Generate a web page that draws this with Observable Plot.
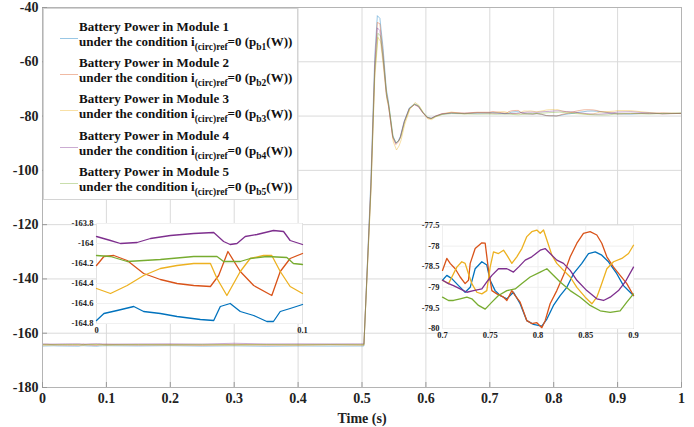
<!DOCTYPE html>
<html><head><meta charset="utf-8">
<script src="https://cdn.jsdelivr.net/npm/d3@7"></script>
<script src="https://cdn.jsdelivr.net/npm/@observablehq/plot@0.6"></script>
<style>
body{margin:0;background:#fff;}
#wrap{position:relative;width:694px;height:427px;overflow:hidden;font-family:"Liberation Serif","Times New Roman",serif;font-weight:bold;}
.abs{position:absolute;}
#legend{position:absolute;left:43px;top:8px;width:255px;height:192px;background:#fff;border:1px solid #d4d4d4;box-sizing:border-box;}
.entry{position:absolute;left:0;width:255px;font-size:13px;line-height:15px;color:#111;}
.entry .sample{position:absolute;left:16px;top:19px;width:18px;height:0;border-top:1px solid;opacity:0.4;}
.entry .txt{position:absolute;left:35px;top:0;white-space:nowrap;}
.entry sub{font-size:9.5px;vertical-align:-4px;line-height:0;}
</style></head><body><div id="wrap"></div>
<script>
// ---- series meta ----
const seriesNames = ["Module 1","Module 2","Module 3","Module 4","Module 5"];
const seriesSubs = ["b1","b2","b3","b4","b5"];
const seriesColors = ["#0072BD","#D95319","#EDB120","#7E2F8E","#77AC30"];

// ---- main axis ticks ----
const xTicks = [0,0.1,0.2,0.3,0.4,0.5,0.6,0.7,0.8,0.9,1];
const xTickLabels = ["0","0.1","0.2","0.3","0.4","0.5","0.6","0.7","0.8","0.9","1"];
const yTicks = [-180,-160,-140,-120,-100,-80,-60,-40];
const yTickLabels = ["-180","-160","-140","-120","-100","-80","-60","-40"];

// ---- left inset ticks (0 - 0.1 s) ----
const in1XTicks = [0,0.1];
const in1XTickLabels = ["0","0.1"];
const in1YTicks = [-164.8,-164.6,-164.4,-164.2,-164,-163.8];
const in1YTickLabels = ["-164.8","-164.6","-164.4","-164.2","-164","-163.8"];
// ---- right inset ticks (0.7 - 0.9 s) ----
const in2XTicks = [0.7,0.75,0.8,0.85,0.9];
const in2XTickLabels = ["0.7","0.75","0.8","0.85","0.9"];
const in2YTicks = [-80,-79.5,-79,-78.5,-78,-77.5];
const in2YTickLabels = ["-80","-79.5","-79","-78.5","-78","-77.5"];

// ---- data: segment 0 - 0.1 s (left inset) ----
const early1 = [[0,-164.77],[0.0036,-164.7],[0.01,-164.67],[0.0181,-164.63],[0.0229,-164.68],[0.031,-164.7],[0.0391,-164.73],[0.0504,-164.76],[0.0569,-164.77],[0.0601,-164.63],[0.0649,-164.6],[0.0698,-164.68],[0.0763,-164.72],[0.0827,-164.78],[0.0859,-164.78],[0.0892,-164.68],[0.094,-164.65],[0.1,-164.61]];
const early2 = [[0,-164.22],[0.0036,-164.13],[0.0084,-164.12],[0.0149,-164.17],[0.0229,-164.3],[0.031,-164.36],[0.0391,-164.4],[0.0472,-164.42],[0.0553,-164.43],[0.0593,-164.32],[0.0638,-164.08],[0.0698,-164.28],[0.0763,-164.42],[0.0851,-164.52],[0.0892,-164.28],[0.094,-164.15],[0.1,-164.1]];
const early3 = [[0,-164.45],[0.0068,-164.5],[0.0149,-164.42],[0.0229,-164.32],[0.031,-164.25],[0.0391,-164.22],[0.0472,-164.2],[0.0553,-164.2],[0.0585,-164.35],[0.0633,-164.52],[0.0698,-164.28],[0.0746,-164.15],[0.0811,-164.12],[0.0851,-164.12],[0.0892,-164.28],[0.094,-164.43],[0.1,-164.5]];
const early4 = [[0,-163.93],[0.0068,-163.97],[0.0116,-164.0],[0.0197,-163.99],[0.0262,-163.95],[0.0359,-163.92],[0.0472,-163.9],[0.0569,-163.89],[0.0617,-163.98],[0.0649,-164.01],[0.0682,-164.0],[0.0722,-163.93],[0.0779,-163.91],[0.0859,-163.87],[0.0908,-163.88],[0.094,-163.97],[0.1,-164.01]];
const early5 = [[0,-164.12],[0.0068,-164.13],[0.0149,-164.18],[0.031,-164.16],[0.0472,-164.13],[0.0585,-164.13],[0.0617,-164.18],[0.0698,-164.18],[0.0746,-164.15],[0.0827,-164.13],[0.0924,-164.14],[0.0956,-164.2],[0.1,-164.21]];

// ---- data: 0.1 - 0.5 s ----
const mid1 = [[0.15,-164.7],[0.2,-164.6],[0.25,-164.75],[0.3,-164.65],[0.35,-164.8],[0.4,-164.7],[0.45,-164.75],[0.503,-164.7]];
const mid2 = [[0.15,-164.4],[0.2,-164.2],[0.25,-164.45],[0.3,-164.1],[0.35,-164.4],[0.4,-164.3],[0.45,-164.2],[0.503,-164.3]];
const mid3 = [[0.15,-164.2],[0.2,-164.45],[0.25,-164.3],[0.3,-164.5],[0.35,-164.2],[0.4,-164.45],[0.45,-164.3],[0.503,-164.4]];
const mid4 = [[0.15,-163.95],[0.2,-163.9],[0.25,-164.0],[0.3,-163.7],[0.35,-163.95],[0.4,-163.9],[0.45,-163.95],[0.503,-163.9]];
const mid5 = [[0.15,-164.15],[0.2,-164.2],[0.25,-164.12],[0.3,-164.2],[0.35,-164.15],[0.4,-164.18],[0.45,-164.12],[0.503,-164.15]];

// ---- data: transient 0.5 - 0.7 s ----
const trans1 = [[0.514,-103],[0.52,-58],[0.524,-43],[0.528,-44],[0.533,-55],[0.538,-70],[0.541,-74],[0.548,-87],[0.553,-90],[0.557,-89],[0.56,-87.5],[0.566,-82],[0.574,-77],[0.582,-75.5],[0.588,-76.2],[0.595,-78.6],[0.602,-80.4],[0.608,-80.9],[0.615,-80.1],[0.625,-79.3],[0.64,-78.9],[0.66,-79.1],[0.68,-78.9]];
const trans2 = [[0.514,-105],[0.52,-61],[0.524,-45.5],[0.528,-46],[0.533,-57],[0.538,-71],[0.541,-75],[0.548,-88],[0.553,-90.5],[0.557,-89.5],[0.56,-88],[0.566,-82.5],[0.574,-77.3],[0.582,-75.8],[0.588,-76.5],[0.595,-78.8],[0.602,-80.6],[0.608,-81],[0.615,-80],[0.625,-79.1],[0.64,-78.7],[0.66,-78.9],[0.68,-78.6]];
const trans3 = [[0.514,-108],[0.52,-66],[0.525,-51],[0.529,-52.5],[0.534,-63],[0.539,-74],[0.542,-77],[0.549,-89.5],[0.554,-92.5],[0.558,-91],[0.561,-89],[0.567,-83],[0.575,-77.5],[0.583,-75],[0.589,-76],[0.596,-78.8],[0.603,-81],[0.609,-81.3],[0.616,-80.2],[0.626,-79.3],[0.64,-78.5],[0.66,-79.2],[0.68,-78.7]];
const trans4 = [[0.514,-106],[0.52,-63],[0.524,-47.5],[0.528,-48.5],[0.533,-59],[0.538,-72],[0.541,-75.5],[0.548,-87.5],[0.553,-90],[0.557,-89.2],[0.56,-87.8],[0.566,-82],[0.574,-77.2],[0.582,-75.8],[0.588,-76.4],[0.595,-78.7],[0.602,-80.5],[0.608,-80.8],[0.615,-80],[0.625,-79.2],[0.64,-78.9],[0.66,-79],[0.68,-78.8]];
const trans5 = [[0.514,-107],[0.52,-64],[0.525,-49.5],[0.529,-50.5],[0.534,-61],[0.539,-73],[0.542,-76],[0.549,-88],[0.554,-89.8],[0.558,-89],[0.561,-87.5],[0.567,-81.8],[0.575,-77],[0.583,-75.6],[0.589,-76.3],[0.596,-78.7],[0.603,-80.5],[0.609,-80.9],[0.616,-80.1],[0.626,-79.4],[0.64,-79.1],[0.66,-79.2],[0.68,-79.3]];

// ---- data: 0.7 - 0.9 s (right inset) ----
const late1 = [[0.7,-78.83],[0.7045,-78.71],[0.7098,-78.79],[0.7168,-78.96],[0.7237,-79.12],[0.729,-79.0],[0.7342,-78.55],[0.7412,-78.38],[0.7464,-78.46],[0.7499,-78.83],[0.7551,-79.08],[0.7604,-79.2],[0.7674,-79.28],[0.7743,-79.12],[0.7813,-79.4],[0.7883,-79.81],[0.7953,-79.9],[0.804,-79.94],[0.8093,-79.77],[0.8162,-79.44],[0.8232,-79.2],[0.8302,-79.0],[0.8372,-78.67],[0.8459,-78.42],[0.8529,-78.18],[0.8599,-78.14],[0.8668,-78.22],[0.8738,-78.38],[0.8825,-78.67],[0.8895,-78.96],[0.8965,-79.12],[0.9,-79.2]];
const late2 = [[0.7,-78.59],[0.7045,-78.3],[0.708,-78.42],[0.7133,-78.55],[0.7185,-78.75],[0.7237,-78.91],[0.7272,-78.83],[0.729,-78.42],[0.7342,-78.06],[0.7412,-77.92],[0.7447,-77.93],[0.7482,-78.59],[0.7517,-79.08],[0.7569,-79.16],[0.7639,-79.24],[0.7674,-79.32],[0.7726,-79.08],[0.7761,-79.2],[0.7813,-79.36],[0.7883,-79.81],[0.7935,-79.88],[0.7988,-79.86],[0.804,-79.98],[0.8075,-79.81],[0.8127,-79.4],[0.8197,-79.08],[0.8267,-78.71],[0.8337,-78.26],[0.8407,-77.93],[0.8476,-77.69],[0.8546,-77.65],[0.8616,-77.73],[0.8668,-77.93],[0.8721,-78.26],[0.8791,-78.51],[0.886,-78.71],[0.893,-78.91],[0.9,-79.2]];
const late3 = [[0.7,-78.83],[0.7063,-78.91],[0.7098,-78.75],[0.715,-78.51],[0.7202,-78.38],[0.7237,-78.42],[0.7272,-78.67],[0.7307,-78.91],[0.736,-79.12],[0.7412,-79.16],[0.7464,-79.08],[0.7499,-78.51],[0.7534,-78.14],[0.7586,-78.18],[0.7639,-78.1],[0.7674,-78.22],[0.7726,-78.42],[0.7778,-78.26],[0.7831,-78.06],[0.7883,-77.77],[0.7935,-77.65],[0.7988,-77.61],[0.8023,-77.69],[0.8058,-77.61],[0.8093,-77.85],[0.8145,-78.22],[0.8197,-78.42],[0.8267,-78.59],[0.8337,-78.75],[0.8407,-79.0],[0.8494,-79.24],[0.8564,-79.4],[0.8616,-79.24],[0.8668,-78.91],[0.8721,-78.55],[0.8791,-78.38],[0.8878,-78.3],[0.8948,-78.18],[0.9,-77.98]];
const late4 = [[0.7,-78.83],[0.7063,-78.91],[0.7115,-78.96],[0.7185,-79.04],[0.7255,-79.12],[0.7325,-79.08],[0.7412,-79.04],[0.7464,-78.87],[0.7517,-78.71],[0.7586,-78.55],[0.7674,-78.55],[0.7743,-78.63],[0.7796,-78.51],[0.7866,-78.34],[0.7935,-78.26],[0.8023,-78.1],[0.8075,-78.06],[0.8127,-78.18],[0.8197,-78.34],[0.8267,-78.42],[0.8337,-78.59],[0.8407,-78.83],[0.8511,-79.08],[0.8616,-79.28],[0.8686,-79.32],[0.8756,-79.24],[0.8843,-79.08],[0.8913,-78.87],[0.9,-78.51]];
const late5 = [[0.7,-79.24],[0.7063,-79.32],[0.7115,-79.32],[0.7185,-79.28],[0.7255,-79.24],[0.7307,-79.28],[0.7377,-79.44],[0.7447,-79.53],[0.7517,-79.36],[0.7586,-79.2],[0.7674,-79.08],[0.7761,-79.04],[0.7831,-78.91],[0.7918,-78.75],[0.8023,-78.63],[0.8093,-78.55],[0.8145,-78.67],[0.8232,-78.87],[0.8337,-79.08],[0.8442,-79.24],[0.8546,-79.44],[0.8651,-79.57],[0.8756,-79.61],[0.886,-79.57],[0.893,-79.36],[0.9,-79.16]];

// ---- data: 0.9 - 1 s ----
const tail1 = [[0.92,-79.3],[0.95,-78.9],[0.97,-79.1],[1.0,-79.0]];
const tail2 = [[0.92,-79.1],[0.95,-79.0],[0.97,-78.8],[1.0,-79.1]];
const tail3 = [[0.92,-78.0],[0.95,-78.7],[0.97,-79.2],[1.0,-78.9]];
const tail4 = [[0.92,-78.4],[0.95,-78.9],[0.97,-79.2],[1.0,-79.0]];
const tail5 = [[0.92,-79.0],[0.95,-79.3],[0.97,-79.0],[1.0,-78.9]];

const early = [early1,early2,early3,early4,early5];
const mids = [mid1,mid2,mid3,mid4,mid5];
const trans = [trans1,trans2,trans3,trans4,trans5];
const late = [late1,late2,late3,late4,late5];
const tails = [tail1,tail2,tail3,tail4,tail5];

const toRows = (arrs) => arrs.flatMap((a, i) => a.map(([t, v]) => ({t, v, s: seriesNames[i]})));
const mainRows = seriesNames.flatMap((n, i) =>
  [...early[i], ...mids[i], ...trans[i], ...late[i], ...tails[i]].map(([t, v]) => ({t, v, s: n})));
const in1Rows = toRows(early);
const in2Rows = toRows(late);

const color = {domain: seriesNames, range: seriesColors};
const fontBase = {fontFamily: '"Liberation Serif","Times New Roman",serif', fontWeight: "bold", background: "transparent", color: "#222"};
const wrap = document.getElementById("wrap");

// ---- main plot ----
const main = Plot.plot({
  width: 694, height: 427,
  marginLeft: 42, marginRight: 13, marginTop: 7, marginBottom: 40,
  style: {...fontBase, fontSize: "14px"},
  x: {domain: [0, 1]},
  y: {domain: [-180, -40]},
  color,
  marks: [
    Plot.gridX(xTicks, {stroke: "#dadada", strokeOpacity: 1}),
    Plot.gridY(yTicks, {stroke: "#dadada", strokeOpacity: 1}),
    Plot.line(mainRows, {x: "t", y: "v", z: "s", stroke: "s", strokeWidth: 0.8, strokeOpacity: 0.5}),
    Plot.frame({stroke: "#b4b4b4"}),
    Plot.axisX({ticks: xTicks, tickFormat: () => "", tickSize: -5, stroke: "#999", label: null}),
    Plot.axisY({ticks: yTicks, tickFormat: () => "", tickSize: -5, stroke: "#999", label: null}),
    Plot.axisX({ticks: xTicks, tickFormat: (d, i) => xTickLabels[i], tickSize: 0, tickPadding: 6, label: "Time (s)", labelArrow: "none", labelAnchor: "center", labelOffset: 35}),
    Plot.axisY({ticks: yTicks, tickFormat: (d, i) => yTickLabels[i], tickSize: 0, tickPadding: 4, label: null})
  ]
});
main.classList.add("abs");
main.style.left = "0px"; main.style.top = "0px";
wrap.appendChild(main);

// ---- legend ----
const legend = document.createElement("div");
legend.id = "legend";
seriesNames.forEach((n, i) => {
  const e = document.createElement("div");
  e.className = "entry";
  e.style.top = (10 + i * 36.2) + "px";
  e.innerHTML = `<span class="sample" style="border-color:${seriesColors[i]}"></span>` +
    `<div class="txt">Battery Power in ${n}<br>under the condition i<sub>(circ)ref</sub>=0 (p<sub>${seriesSubs[i]}</sub>(W))</div>`;
  legend.appendChild(e);
});
wrap.appendChild(legend);

// ---- left inset ----
const in1 = Plot.plot({
  width: 248, height: 120,
  marginLeft: 36, marginRight: 6, marginTop: 4, marginBottom: 16,
  style: {...fontBase, fontSize: "8.5px"},
  x: {domain: [0, 0.1]},
  y: {domain: [-164.8, -163.8]},
  color,
  marks: [
    Plot.frame({fill: "#fff", stroke: "#e2e2e2"}),
    Plot.gridY(in1YTicks, {stroke: "#f0f0f0", strokeOpacity: 1}),
    Plot.line(in1Rows, {x: "t", y: "v", z: "s", stroke: "s", strokeWidth: 1.3}),
    Plot.axisX({ticks: in1XTicks, tickFormat: (d, i) => in1XTickLabels[i], tickSize: 0, tickPadding: 3, label: null}),
    Plot.axisY({ticks: in1YTicks, tickFormat: (d, i) => in1YTickLabels[i], tickSize: 0, tickPadding: 3, label: null})
  ]
});
in1.classList.add("abs");
in1.style.left = "60px"; in1.style.top = "219px";
wrap.appendChild(in1);

// ---- right inset ----
const in2 = Plot.plot({
  width: 229, height: 125,
  marginLeft: 30, marginRight: 8, marginTop: 6, marginBottom: 16,
  style: {...fontBase, fontSize: "8.5px"},
  x: {domain: [0.7, 0.9]},
  y: {domain: [-80, -77.5]},
  color,
  marks: [
    Plot.frame({fill: "#fff", stroke: "#e2e2e2"}),
    Plot.gridX(in2XTicks, {stroke: "#efefef", strokeOpacity: 1}),
    Plot.gridY(in2YTicks, {stroke: "#efefef", strokeOpacity: 1}),
    Plot.line(in2Rows, {x: "t", y: "v", z: "s", stroke: "s", strokeWidth: 1.3}),
    Plot.axisX({ticks: in2XTicks, tickFormat: (d, i) => in2XTickLabels[i], tickSize: 0, tickPadding: 3, label: null}),
    Plot.axisY({ticks: in2YTicks, tickFormat: (d, i) => in2YTickLabels[i], tickSize: 0, tickPadding: 3, label: null})
  ]
});
in2.classList.add("abs");
in2.style.left = "412px"; in2.style.top = "219px";
wrap.appendChild(in2);
</script></body></html>
